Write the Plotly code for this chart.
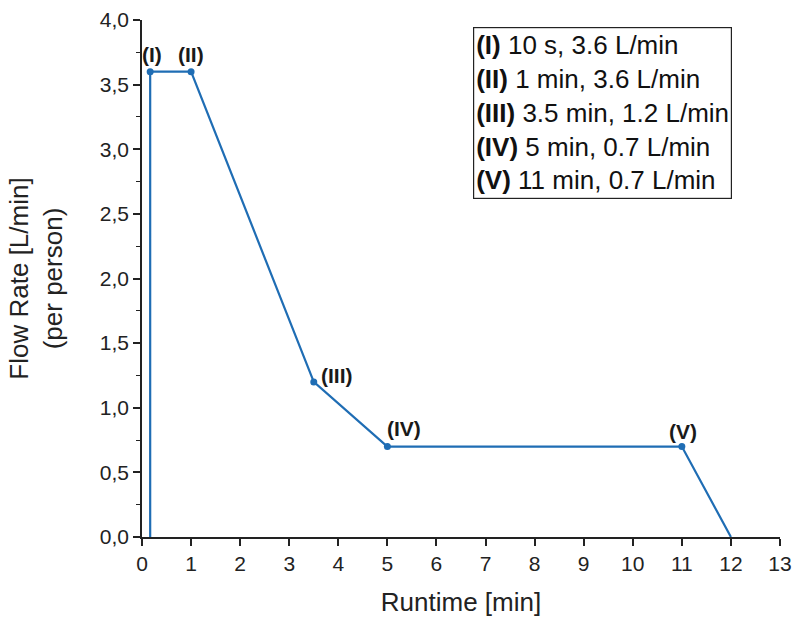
import plotly.graph_objects as go

# Data
line_x = [10/60, 10/60, 1, 3.5, 5, 11, 12]
line_y = [0, 3.6, 3.6, 1.2, 0.7, 0.7, 0]
point_x = [10/60, 1, 3.5, 5, 11]
point_y = [3.6, 3.6, 1.2, 0.7, 0.7]
point_labels = ["(I)", "(II)", "(III)", "(IV)", "(V)"]
legend_lines = [("(I)", "10 s, 3.6 L/min"), ("(II)", "1 min, 3.6 L/min"),
                ("(III)", "3.5 min, 1.2 L/min"), ("(IV)", "5 min, 0.7 L/min"),
                ("(V)", "11 min, 0.7 L/min")]
x_ticks = list(range(0, 14))
y_ticks = [0, 0.5, 1.0, 1.5, 2.0, 2.5, 3.0, 3.5, 4.0]

color = "#1f6db4"
font_family = "Liberation Sans, Arial, sans-serif"

fig = go.Figure()
fig.add_trace(go.Scatter(x=line_x, y=line_y, mode="lines",
                         line=dict(color=color, width=2.2), showlegend=False,
                         cliponaxis=False))
fig.add_trace(go.Scatter(x=point_x, y=point_y, mode="markers",
                         marker=dict(color=color, size=7), showlegend=False,
                         cliponaxis=False))

label_shifts = [(2, 17), (0, 17), (23, 6), (17, 18), (1, 15)]
for x, y, t, (dx, dy) in zip(point_x, point_y, point_labels, label_shifts):
    fig.add_annotation(x=x, y=y, text="<b>" + t + "</b>", showarrow=False,
                       xshift=dx, yshift=dy, font=dict(size=21, color="#1a1a1a"))

legend_text = "<br>".join("<b>%s</b> %s" % (a, b) for a, b in legend_lines)
fig.add_annotation(xref="paper", yref="paper", x=0.519, y=0.987,
                   xanchor="left", yanchor="top", align="left",
                   text=legend_text, showarrow=False,
                   font=dict(size=26, color="#111"),
                   bordercolor="#222", borderwidth=1.2, borderpad=2,
                   bgcolor="white")

fig.update_layout(
    width=794, height=617,
    margin=dict(l=142, r=14, t=20, b=80),
    plot_bgcolor="white", paper_bgcolor="white",
    font=dict(family=font_family, color="#222", size=21),
    separators=",.",
)
fig.update_xaxes(range=[0, 13], tickvals=x_ticks, ticks="outside", ticklen=7,
                 tickwidth=1.5, tickcolor="#222", showline=True, linecolor="#222",
                 linewidth=1.5, showgrid=False, zeroline=False, automargin=False,
                 tickfont=dict(size=21),
                 title=dict(text="Runtime [min]", font=dict(size=26), standoff=20))
fig.update_yaxes(range=[0, 4], tickvals=y_ticks, tickformat=".1f", ticks="outside",
                 ticklen=7, tickwidth=1.5, tickcolor="#222", showline=True,
                 linecolor="#222", linewidth=1.5, showgrid=False, zeroline=False,
                 automargin=False, tickfont=dict(size=21),
                 minor=dict(ticks="outside", ticklen=4, dtick=0.25, tick0=0,
                            tickcolor="#222", tickwidth=1.2, showgrid=False),
                 title=dict(text="Flow Rate [L/min]<br>(per person)",
                            font=dict(size=26), standoff=30))

fig.write_html("out.html")
